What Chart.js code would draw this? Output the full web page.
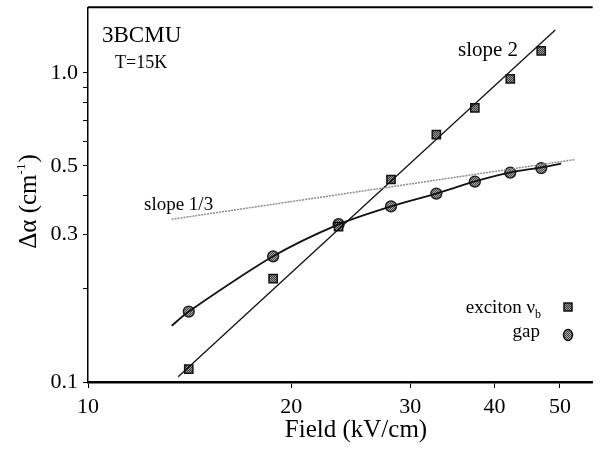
<!DOCTYPE html>
<html>
<head>
<meta charset="utf-8">
<script src="https://cdn.jsdelivr.net/npm/chart.js@4"></script>
<style>
  body { margin: 0; background: #fff; }
</style>
</head>
<body>
<canvas id="myChart" width="600" height="452"></canvas>
<script>
// measured points (field in kV/cm, delta alpha in 1/cm)
var fieldPts = [14.1, 18.8, 23.5, 28.1, 32.8, 37.4, 42.2, 46.9]
var excitonVals = [0.110, 0.216, 0.318, 0.452, 0.631, 0.771, 0.956, 1.178]
var gapVals = [0.169, 0.255, 0.324, 0.370, 0.407, 0.445, 0.476, 0.492]

// guide lines
var slope2X = [13.6, 49.2]
var slope2Y = [0.104, 1.376]
var slope13X = [13.3, 52.5]
var slope13Y = [0.336, 0.524]
var gapFitX = [13.3, 14.1, 18.8, 23.5, 28.1, 32.8, 37.3, 42.1, 46.8, 50.2]
var gapFitY = [0.152, 0.169, 0.255, 0.3235, 0.370, 0.407, 0.445, 0.476, 0.494, 0.509]

var xTicks = [10, 20, 30, 40, 50]
var yTicks = [0.1, 0.2, 0.3, 0.4, 0.5, 0.6, 0.7, 0.8, 0.9, 1.0]
var yLabels = { 0.1: "0.1", 0.3: "0.3", 0.5: "0.5", 1.0: "1.0" }

var SERIF = "'Liberation Serif', 'Times New Roman', serif"

function toPts(xs, ys) {
    var out = []
    for (let i = 0; i < xs.length; i++) {
        out.push({ x: xs[i], y: ys[i] })
    }
    return out
}

// little checkered fill like the scanned markers
function hatch(dark, light) {
    var c = document.createElement('canvas')
    c.width = 2
    c.height = 2
    var g = c.getContext('2d')
    g.fillStyle = light
    g.fillRect(0, 0, 2, 2)
    g.fillStyle = dark
    g.fillRect(0, 0, 1, 1)
    g.fillRect(1, 1, 1, 1)
    return g.createPattern(c, 'repeat')
}

var squareFill = hatch('#3a3a3a', '#9a9a9a')
var circleFill = hatch('#4a4a4a', '#a8a8a8')

// no extra room for edge labels, the frame runs to the canvas edge
function noPad(s) {
    s.paddingTop = 0
    s.paddingBottom = 0
    s.paddingLeft = 0
    s.paddingRight = 0
}

var textPlugin = {
    id: 'texts',
    afterDraw: function (chart) {
        var ctx = chart.ctx
        var a = chart.chartArea
        ctx.save()
        // top frame line
        ctx.strokeStyle = '#000'
        ctx.lineWidth = 2
        ctx.beginPath()
        ctx.moveTo(a.left, a.top)
        ctx.lineTo(a.right, a.top)
        ctx.stroke()

        ctx.fillStyle = '#000'
        ctx.textBaseline = 'alphabetic'
        ctx.textAlign = 'left'
        ctx.font = '23px ' + SERIF
        ctx.fillText('3BCMU', 102, 42)
        ctx.font = '18px ' + SERIF
        ctx.fillText('T=15K', 115, 68)
        ctx.font = '21px ' + SERIF
        ctx.fillText('slope 2', 458, 56)
        ctx.font = '19px ' + SERIF
        ctx.fillText('slope 1/3', 144, 210)

        // legend
        ctx.textAlign = 'right'
        ctx.font = '19px ' + SERIF
        ctx.fillText('exciton \u03bd', 535, 313)
        ctx.font = '12px ' + SERIF
        ctx.textAlign = 'left'
        ctx.fillText('b', 535, 318)
        ctx.textAlign = 'right'
        ctx.font = '19px ' + SERIF
        ctx.fillText('gap', 540, 337)

        ctx.fillStyle = squareFill
        ctx.strokeStyle = '#111'
        ctx.lineWidth = 1.5
        ctx.fillRect(564, 303, 8, 8)
        ctx.strokeRect(564, 303, 8, 8)
        ctx.fillStyle = circleFill
        ctx.beginPath()
        ctx.ellipse(568, 335, 4.5, 5.5, 0, 0, Math.PI * 2)
        ctx.fill()
        ctx.stroke()

        // axis titles
        ctx.fillStyle = '#000'
        ctx.textAlign = 'center'
        ctx.font = '25px ' + SERIF
        ctx.fillText('Field (kV/cm)', 356, 437)

        ctx.translate(36, 202)
        ctx.rotate(-Math.PI / 2)
        ctx.textAlign = 'left'
        var p1 = '\u0394\u03b1 (cm'
        var p2 = '-1'
        var p3 = ')'
        ctx.font = '25px ' + SERIF
        var w1 = ctx.measureText(p1).width
        var w3 = ctx.measureText(p3).width
        ctx.font = '13px ' + SERIF
        var w2 = ctx.measureText(p2).width
        var x0 = -(w1 + w2 + w3) / 2
        ctx.font = '25px ' + SERIF
        ctx.fillText(p1, x0, 0)
        ctx.font = '13px ' + SERIF
        ctx.fillText(p2, x0 + w1, -11)
        ctx.font = '25px ' + SERIF
        ctx.fillText(p3, x0 + w1 + w2 + 1, 0)
        ctx.restore()
    }
}

var ctx = document.getElementById('myChart').getContext('2d')
var chart = new Chart(ctx, {
    type: 'scatter',
    data: {
        datasets: [
            {
                label: 'slope 1/3',
                data: toPts(slope13X, slope13Y),
                showLine: true,
                borderColor: '#8c8c8c',
                borderWidth: 1.5,
                borderDash: [2, 1],
                pointRadius: 0
            },
            {
                label: 'slope 2',
                data: toPts(slope2X, slope2Y),
                showLine: true,
                borderColor: '#111',
                borderWidth: 1.3,
                pointRadius: 0
            },
            {
                label: 'gap fit',
                data: toPts(gapFitX, gapFitY),
                showLine: true,
                borderColor: '#111',
                borderWidth: 1.8,
                tension: 0.3,
                pointRadius: 0
            },
            {
                label: 'exciton',
                data: toPts(fieldPts, excitonVals),
                pointStyle: 'rect',
                pointRadius: 5.8,
                backgroundColor: squareFill,
                borderColor: '#111',
                borderWidth: 1.5
            },
            {
                label: 'gap',
                data: toPts(fieldPts, gapVals),
                pointStyle: 'circle',
                pointRadius: 5.4,
                backgroundColor: circleFill,
                borderColor: '#222',
                borderWidth: 1.5
            }
        ]
    },
    options: {
        responsive: false,
        animation: false,
        layout: { padding: { top: 6, right: 0, left: 0, bottom: 0 } },
        plugins: {
            legend: { display: false },
            tooltip: { enabled: false }
        },
        scales: {
            x: {
                type: 'logarithmic',
                min: 10,
                max: 55.9,
                afterFit: function (s) { s.height = 70; noPad(s) },
                afterBuildTicks: function (s) {
                    s.ticks = xTicks.map(v => ({ value: v }))
                },
                ticks: {
                    autoSkip: false,
                    maxRotation: 0,
                    padding: 6,
                    color: '#000',
                    font: { family: SERIF, size: 22 },
                    callback: function (v) { return String(v) }
                },
                grid: { drawOnChartArea: false, drawTicks: true, tickLength: 6, color: '#000', lineWidth: 1 },
                border: { display: true, color: '#000', width: 2.5 }
            },
            y: {
                type: 'logarithmic',
                min: 0.1,
                max: 1.63,
                afterFit: function (s) { s.width = 88; noPad(s) },
                afterBuildTicks: function (s) {
                    s.ticks = yTicks.map(v => ({ value: v }))
                },
                ticks: {
                    autoSkip: false,
                    padding: 5,
                    color: '#000',
                    font: { family: SERIF, size: 22 },
                    callback: function (v) {
                        var k = Math.round(v * 10) / 10
                        return yLabels[k] || ''
                    }
                },
                grid: { drawOnChartArea: false, drawTicks: true, tickLength: 5, color: '#000', lineWidth: 1 },
                border: { display: true, color: '#000', width: 1.5 }
            }
        }
    },
    plugins: [textPlugin]
})
</script>
</body>
</html>
